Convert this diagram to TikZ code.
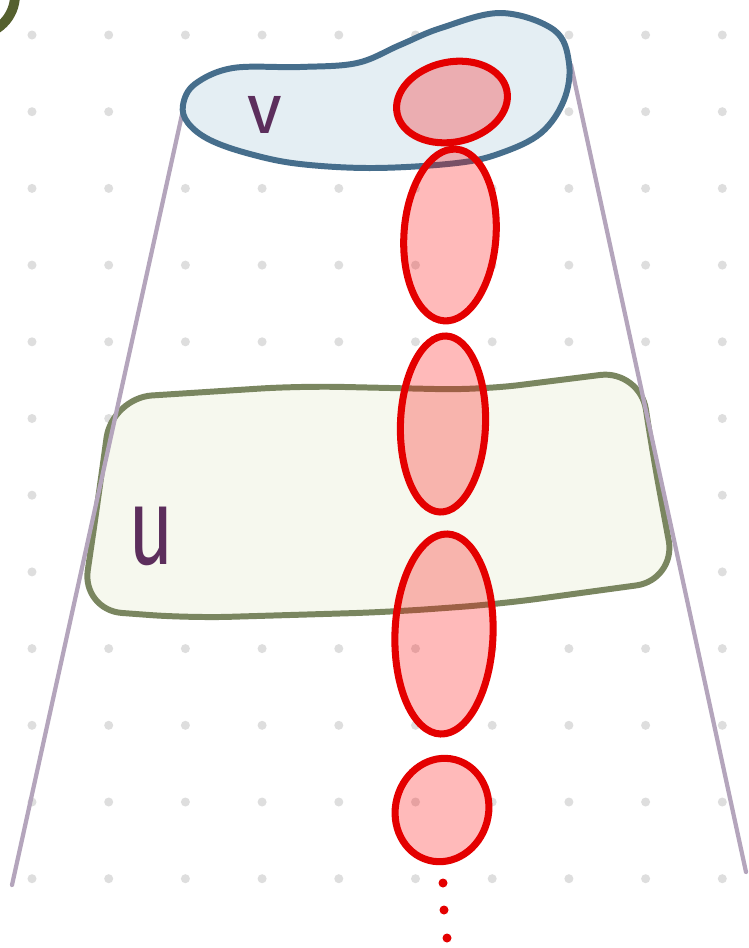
\documentclass[tikz,border=0pt]{standalone}
\usepackage{fontspec}
\setmainfont{Fira Sans}
\usepackage{tikz}
\usetikzlibrary{shapes.geometric}
\definecolor{dotgray}{RGB}{222,222,222}
\definecolor{sidegray}{RGB}{180,165,188}
\definecolor{vblue}{RGB}{70,110,140}
\definecolor{vfill}{RGB}{228,238,243}
\definecolor{uolive}{RGB}{122,134,96}
\definecolor{ufill}{RGB}{246,248,238}
\definecolor{cellred}{RGB}{228,0,0}
\definecolor{labelpurple}{RGB}{92,46,92}
\definecolor{darkolive}{RGB}{85,96,46}

\begin{document}
\begin{tikzpicture}[x=0.01cm, y=-0.01cm,
    side/.style={draw=sidegray, line width=1.2pt, line cap=round},
    vset/.style={draw=vblue, fill=vfill, line width=1.7pt},
    uset/.style={draw=uolive, fill=ufill, line width=1.7pt, rounded corners=0.4cm},
    cell/.style={ellipse, draw=cellred, line width=2pt, fill=red, fill opacity=0.27, draw opacity=1, inner sep=0pt},
    lbl/.style={text=labelpurple, inner sep=0pt}]
    \useasboundingbox (0,0) rectangle (748,948);
    \fill[white] (0,0) rectangle (748,948);
    \begin{scope}
    \clip (0,0) rectangle (748,948);
    \draw[darkolive, line width=2.8pt] (-25,-5) circle (0.4cm);
    \end{scope}
    % grid of dots
    \foreach \i in {0,...,9}
      \foreach \j in {0,...,11}
        \fill[dotgray] (32+76.7*\i, 35+76.7*\j) circle (0.045cm);
    % the set U
    \draw[uset] (112,398) -- (300,386) -- (480,390) -- (640,370) -- (652,450) -- (676,580)
      -- (500,604) -- (390,612) -- (190,618) -- (82,610) -- (98,500) -- cycle;
    % sides of the cone
    \coordinate (lt) at (183,110);
    \coordinate (lb) at (12,885);
    \coordinate (rt) at (571,65);
    \coordinate (rb) at (746,872);
    \draw[side] (lt) -- (lb);
    \draw[side] (rt) -- (rb);
    % the set V
    \draw[vset] plot[smooth cycle, tension=0.6] coordinates {(183,105) (195,84) (233,68) (300,67)
      (357,63) (400,45) (441,28) (501,13) (554,30) (569,63) (564,100) (541,133) (501,153)
      (457,163) (374,168) (300,164) (250,154) (210,140) (188,123)};
    % chain of cells
    \node[cell, minimum width=1.12cm, minimum height=0.8cm, rotate=12] (c1) at (452,102) {};
    \node[cell, minimum width=0.92cm, minimum height=1.72cm, rotate=-4] (c2) at (450,235) {};
    \node[cell, minimum width=0.85cm, minimum height=1.76cm, rotate=-2] (c3) at (443,424) {};
    \node[cell, minimum width=0.98cm, minimum height=2.0cm, rotate=-2] (c4) at (444,634) {};
    \node[cell, minimum width=0.93cm, minimum height=1.04cm, rotate=-15] (c5) at (442,810) {};
    \fill[cellred] (443,883) circle (0.045cm);
    \fill[cellred] (444,910) circle (0.045cm);
    \fill[cellred] (447,938) circle (0.045cm);
    % labels
    \node[lbl, font=\fontsize{20}{24}\selectfont] (v) at (265,115) {v};
    \node[lbl, font=\fontsize{31}{36}\selectfont, xscale=0.72] (u) at (151,536) {u};
\end{tikzpicture}
\end{document}
